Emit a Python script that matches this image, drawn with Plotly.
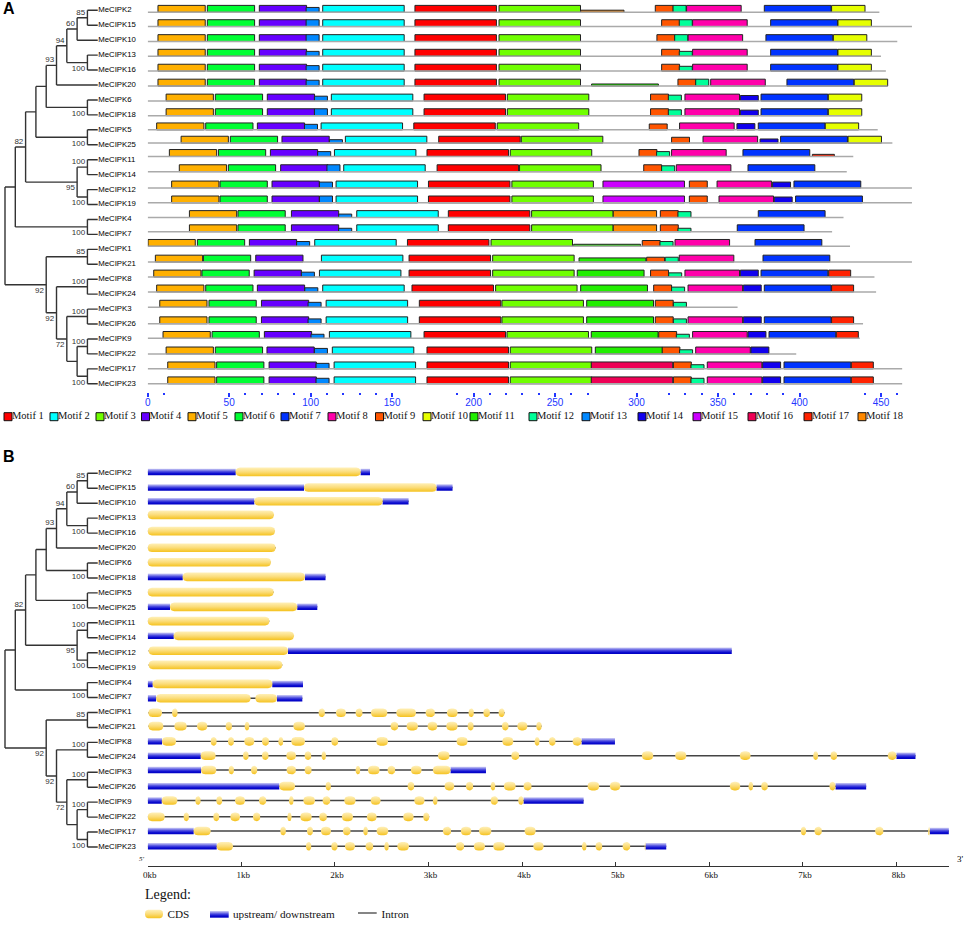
import numpy as np
import plotly.graph_objects as go

W, H = 964, 925

# tree order, top to bottom, shared by panels A and B
GENES = [
    "MeCIPK2", "MeCIPK15", "MeCIPK10", "MeCIPK13", "MeCIPK16", "MeCIPK20", "MeCIPK6", "MeCIPK18",
    "MeCIPK5", "MeCIPK25", "MeCIPK11", "MeCIPK14", "MeCIPK12", "MeCIPK19", "MeCIPK4", "MeCIPK7",
    "MeCIPK1", "MeCIPK21", "MeCIPK8", "MeCIPK24", "MeCIPK3", "MeCIPK26", "MeCIPK9", "MeCIPK22",
    "MeCIPK17", "MeCIPK23",
]

# (depth, support, side of the support label, children...)
TREE = (0, None, None,
    (1, None, None,
        (2, 82, "up",
            (3, None, None,
                (4, None, None,
                    (5, 93, "up",
                        (6, 94, "up",
                            (7, 60, "up", (8, 85, "up", "MeCIPK2", "MeCIPK15"), "MeCIPK10"),
                            (8, 100, "down", "MeCIPK13", "MeCIPK16")),
                        "MeCIPK20"),
                    (8, 100, "down", "MeCIPK6", "MeCIPK18")),
                (8, 100, "down", "MeCIPK5", "MeCIPK25")),
            (7, 95, "down",
                (8, 100, "up", "MeCIPK11", "MeCIPK14"),
                (8, 100, "down", "MeCIPK12", "MeCIPK19"))),
        (8, 100, "down", "MeCIPK4", "MeCIPK7")),
    (4, 92, "down",
        (8, 85, "up", "MeCIPK1", "MeCIPK21"),
        (5, 92, "down",
            (8, 100, "up", "MeCIPK8", "MeCIPK24"),
            (6, 72, "down",
                (8, 100, "up", "MeCIPK3", "MeCIPK26"),
                (7, None, None,
                    (8, 100, "up", "MeCIPK9", "MeCIPK22"),
                    (8, 100, "down", "MeCIPK17", "MeCIPK23"))))),
)

# panel A
PROTEIN_LENGTH = [449, 469, 460, 450, 453, 454, 438, 438, 448, 457, 433, 429, 469, 469, 427, 420,
                  431, 469, 446, 447, 362, 439, 437, 398, 463, 463]
MOTIF_WIDTH = [50, 50, 50, 29, 29, 29, 41, 33.5, 11, 20.5, 41, 8, 8, 11, 50, 50, 13.5, 26.6]
MOTIF_COLORS = ["#ff0000", "#00ffff", "#70ff00", "#6600ff", "#ffb000", "#00ff33", "#0033ff", "#ff00aa",
                "#ff5500", "#e6ff00", "#22ee00", "#00ff99", "#0088ff", "#1100ee", "#cc00ff", "#ee0055",
                "#ff2200", "#ff8800"]
MOTIF_NAMES = [f"Motif {i}" for i in range(1, 19)]
# baseline of each track, as a shift from the tree row
MOTIF_SHIFT = [.13, .09, .09, .07, .07, .07, .07, .05, 0, -.11, -.22, -.20, -.11, -.11, -.13, -.18,
               -.20, -.15, -.15, -.15, -.13, -.02, -.04, 0, 0, 0]

# (motif, start) or (motif, start, relative height)
M_2 = [(5, 6.3), (6, 36.6), (4, 68.5), (13, 97.2, .7), (2, 107.4), (1, 164), (3, 215.6), (18, 265.7, .3),
       (9, 311.5), (12, 322.4), (8, 330.7), (7, 378.4), (10, 419.7)]
M_15 = [(5, 6.3), (6, 36.6), (4, 68.5), (13, 97.2), (2, 107.4), (1, 164), (3, 215.6), (9, 315.4),
        (12, 326.2), (8, 334.4), (7, 382.3), (10, 423.6)]
M_10 = [(5, 6.3), (6, 36.6), (4, 68.5), (13, 97.2), (2, 107.4), (1, 164), (3, 215.6), (9, 312.5),
        (12, 323.4), (8, 331.6), (7, 379.4), (10, 420.8)]
M_13 = [(5, 6.3), (6, 36.6), (4, 68.5), (13, 97.2, .7), (2, 107.4), (1, 164), (3, 215.6), (9, 315.4),
        (12, 326.2, .7), (8, 334.4), (7, 382.3), (10, 423.6)]
M_16 = [(5, 6.3), (6, 36.6), (4, 68.5), (13, 97.2, .8), (2, 107.4), (1, 164), (3, 215.6), (9, 315.4),
        (12, 326.2, .7), (8, 334.4), (7, 382.3), (10, 423.6)]
M_20 = [(5, 6.3), (6, 36.6), (4, 68.5), (13, 97.2, .85), (2, 107.4), (1, 164), (3, 215.6), (11, 272.4, .3),
        (9, 325.4), (12, 336.3), (8, 345.5), (7, 392.3), (10, 433.6)]
M_6 = [(5, 11.3), (6, 41.5), (4, 73.4), (13, 102.3, .7), (2, 112.7), (1, 169.6), (3, 220.7), (9, 308.6),
       (12, 319.5, .85), (8, 329.7), (14, 363.7, .8), (7, 376.4), (10, 417.7)]
M_18 = [(5, 11.3), (6, 41.5), (4, 73.4), (13, 102.3), (2, 112.7), (1, 169.6), (3, 220.7), (9, 308.6),
        (12, 319.5, .85), (8, 329.7), (14, 363.7, .8), (7, 376.4), (10, 417.7)]
M_5 = [(5, 5.5), (6, 35.6), (4, 67.3), (13, 96.2, .8), (2, 106.4), (1, 163.3), (3, 214.5), (9, 307.8, .85),
       (8, 326.4), (14, 361.6, .9), (7, 374.7), (10, 415.8)]
M_25 = [(5, 20.5), (6, 50.7), (4, 82.4), (13, 111.5, .5), (2, 121.3), (1, 178.6), (3, 229.3), (9, 321.5, .85),
        (8, 340.8), (14, 375.8, .6), (7, 388.4), (10, 429.8)]
M_11 = [(5, 13.3), (6, 43.4), (4, 75.3), (13, 104.3, .7), (2, 114.6), (1, 171.4), (3, 222.5), (9, 301.5),
        (12, 312.3, .7), (8, 321.5), (7, 365.3), (17, 407.9, .3)]
M_14 = [(5, 19.4), (6, 49.5), (4, 81.6), (13, 110), (2, 120.3), (1, 177.6), (3, 228.2), (9, 304.4),
        (12, 315.4, .85), (8, 324.4), (7, 368.4)]
M_12 = [(5, 14.7), (6, 44.4), (4, 76.3), (13, 105.4, .85), (2, 115.6), (1, 172.3), (3, 223.5), (15, 279.4),
        (9, 332.4), (8, 349.4), (14, 383.5, .85), (7, 396.6)]
M_19 = [(5, 14.7), (6, 44.4), (4, 76.3), (13, 105.4), (2, 115.6), (1, 172.3), (3, 223.5), (15, 279.4),
        (9, 332.4), (8, 350.6), (14, 384.5, .85), (7, 397.6)]
M_4 = [(5, 25.6), (6, 55.4), (4, 88.2), (13, 117.2, .5), (2, 128.3), (1, 184.5), (3, 235.6), (18, 285.7),
       (9, 314.6), (12, 325.4, .85), (7, 374.7)]
M_7 = [(5, 25.6), (6, 55.4), (4, 88.2), (13, 117.2, .5), (2, 128.3), (1, 184.5), (3, 235.6), (18, 285.7),
       (9, 314.6), (12, 325.4, .5), (7, 361.8)]
M_1 = [(5, .2), (6, 30.5), (4, 62.4), (13, 91.4, .7), (2, 102.5), (1, 159.4), (3, 210.7), (11, 261.4, .3),
       (9, 303.5, .85), (12, 314.4, .7), (8, 323.6), (7, 372.7)]
M_21 = [(5, 4.7), (6, 34.2), (4, 66.3), (2, 106.6), (1, 160.4), (3, 211.7), (11, 264.7, .6), (9, 306.2, .7),
        (12, 317.6, .7), (8, 326.2), (7, 377.6)]
M_8 = [(5, 3.7), (6, 33.3), (4, 65.3), (13, 94.3, .7), (2, 105.4), (1, 160.4), (3, 211.7), (11, 263.6),
       (9, 308.6), (12, 319.7, .6), (8, 329.7), (14, 363.7), (7, 376.4), (17, 417.9)]
M_24 = [(5, 5.5), (6, 35.6), (4, 67.3), (13, 96.4, .6), (2, 107.4), (1, 162.2), (3, 213.5), (11, 265.7),
        (9, 310.5), (12, 321.5, .7), (8, 331.6), (14, 365.5), (7, 378.4), (17, 419.7)]
M_3 = [(5, 7.4), (6, 37.6), (4, 69.8), (13, 98.4, .7), (2, 109.5), (1, 166.7), (3, 217.4), (11, 269.4),
       (9, 311.5), (12, 322.6, .7)]
M_26 = [(5, 7.4), (6, 37.6), (4, 69.8), (13, 98.4, .7), (2, 109.5), (1, 166.7), (3, 217.4), (11, 269.4),
        (9, 311.5), (12, 322.6, .7), (8, 331.6), (14, 365.5), (7, 378.4), (17, 419.7)]
M_9 = [(5, 9.4), (6, 39.5), (4, 71.6), (13, 100.2, .6), (2, 111.5), (1, 169.6), (3, 220.5), (11, 272.2),
       (9, 313.6), (12, 324.4, .6), (8, 334.4), (14, 368.4), (7, 381.3), (17, 422.6)]
M_22 = [(5, 11.3), (6, 41.5), (4, 73.2), (13, 102.3, .8), (2, 113.3), (1, 171.4), (3, 222.5), (11, 274.7),
        (9, 315.6), (12, 326.4, .6), (8, 336.3), (14, 370.2)]
M_17 = [(5, 12.3), (6, 42.3), (4, 74.5), (13, 103.3, .8), (2, 114.4), (1, 171.4), (3, 222.5), (16, 272.2),
        (9, 322.6), (12, 333.4, .6), (8, 343.4), (14, 377.4), (7, 390.5), (17, 431.8)]
M_23 = [(5, 12.3), (6, 42.3), (4, 74.5), (13, 103.3, .8), (2, 114.4), (1, 171.4), (3, 222.5), (16, 272.2),
        (9, 322.6), (12, 333.4, .8), (8, 343.4), (14, 377.4), (7, 390.5), (17, 431.8)]
MOTIF_HITS = [M_2, M_15, M_10, M_13, M_16, M_20, M_6, M_18, M_5, M_25, M_11, M_14, M_12, M_19, M_4, M_7,
              M_1, M_21, M_8, M_24, M_3, M_26, M_9, M_22, M_17, M_23]

AA_MAJOR = [0, 50, 100, 150, 200, 250, 300, 350, 400, 450]
AA_MINOR = [10, 60, 70, 80, 90, 110, 120, 130, 140, 190, 210, 220, 230, 240, 260, 270, 320, 330, 340,
            360, 370, 380, 390, 440, 460]

# panel B, kb from the 5' end
GENE_SHIFT = [-.09, -.05, -.13, -.22, -.13, -.02, -.05, -.07, -.05, -.07, -.11, -.13, -.13, -.18, .09, .05,
              .02, -.09, -.07, -.11, -.15, -.07, -.11, -.02, -.07, -.05]

CDS_2 = [(.94, 2.275)]
CDS_15 = [(1.67, 3.086)]
CDS_10 = [(1.139, 2.51)]
CDS_13 = [(0, 1.349)]
CDS_16 = [(0, 1.36)]
CDS_20 = [(0, 1.367)]
CDS_6 = [(0, 1.317)]
CDS_18 = [(.374, 1.68)]
CDS_5 = [(0, 1.346)]
CDS_25 = [(.238, 1.598)]
CDS_11 = [(0, 1.30)]
CDS_14 = [(.278, 1.563)]
CDS_12 = [(.01, 1.499)]
CDS_19 = [(.01, 1.438)]
CDS_4 = [(.053, 1.331)]
CDS_7 = [(.089, 1.10), (1.15, 1.381)]
CDS_1 = [(.007, .153), (.26, .32), (1.826, 1.894), (2.011, 2.118), (2.221, 2.296), (2.385, 2.56), (2.656, 2.866),
         (2.969, 3.069), (3.197, 3.311), (3.428, 3.485), (3.586, 3.657), (3.749, 3.813)]
CDS_21 = [(.007, .167), (.285, .417), (.527, .637), (.833, .901), (1.036, 1.086), (1.556, 1.68), (2.595, 2.677),
          (2.766, 2.887), (2.99, 3.094), (3.19, 3.311), (3.418, 3.482), (3.785, 3.856), (3.949, 4.056), (4.152, 4.209)]
CDS_8 = [(.153, .303), (.673, .737), (.858, .922), (1.032, 1.139), (1.221, 1.296), (1.396, 1.449), (1.534, 1.68),
         (1.962, 2.036), (2.442, 2.567), (3.3, 3.418), (3.789, 3.906), (4.134, 4.187), (4.287, 4.358), (4.54, 4.636)]
CDS_24 = [(.566, .726), (1.018, 1.079), (1.221, 1.292), (1.481, 1.584), (1.677, 1.748), (1.858, 1.905), (3.101, 3.225),
          (3.885, 3.97), (5.28, 5.401), (5.636, 5.754), (6.327, 6.441), (7.11, 7.163), (7.295, 7.366), (7.907, 8.0)]
CDS_3 = [(.57, .733), (.865, .922), (1.104, 1.171), (1.484, 1.584), (1.677, 1.752), (2.221, 2.271), (2.353, 2.478),
         (2.563, 2.645), (2.812, 2.926), (3.047, 3.236)]
CDS_26 = [(1.406, 1.574), (1.901, 1.958), (2.777, 2.848), (3.172, 3.275), (3.4, 3.478), (3.664, 3.714), (3.806, 3.931),
          (4.016, 4.102), (4.7, 4.824), (4.938, 5.049), (6.22, 6.33), (6.419, 6.469), (6.555, 6.626), (7.284, 7.349)]
CDS_9 = [(.15, .317), (.509, .566), (.733, .797), (.933, 1.04), (1.189, 1.267), (1.509, 1.559), (1.663, 1.787),
         (1.869, 1.951), (2.1, 2.221), (2.382, 2.488), (2.848, 2.958), (3.047, 3.097), (3.664, 3.742), (3.959, 4.016)]
CDS_22 = [(0, .182), (.384, .441), (.701, .765), (.883, .986), (1.125, 1.203), (1.492, 1.538), (1.63, 1.752),
          (1.833, 1.915), (2.075, 2.193), (2.342, 2.446), (2.73, 2.841), (2.944, 3.008)]
CDS_17 = [(.491, .673), (1.417, 1.477), (1.702, 1.766), (1.851, 1.958), (2.086, 2.168), (2.303, 2.353), (2.446, 2.57),
          (3.154, 3.243), (3.346, 3.457), (3.54, 3.671), (4.027, 4.145), (6.978, 7.035), (7.124, 7.203), (7.772, 7.861),
          (8.338, 8.356)]
CDS_23 = [(.737, .911), (1.691, 1.748), (1.962, 2.029), (2.108, 2.214), (2.328, 2.41), (2.528, 2.577), (2.667, 2.791),
          (3.293, 3.382), (3.485, 3.603), (3.692, 3.817), (4.12, 4.23), (4.639, 4.689), (4.785, 4.857), (5.074, 5.156),
          (5.309, 5.319)]
GENE_CDS = [CDS_2, CDS_15, CDS_10, CDS_13, CDS_16, CDS_20, CDS_6, CDS_18, CDS_5, CDS_25, CDS_11, CDS_14, CDS_12, CDS_19,
            CDS_4, CDS_7, CDS_1, CDS_21, CDS_8, CDS_24, CDS_3, CDS_26, CDS_9, CDS_22, CDS_17, CDS_23]

GENE_UTR = [
    [(0, .94), (2.275, 2.375)], [(0, 1.67), (3.086, 3.257)], [(0, 1.139), (2.51, 2.787)], [], [], [], [],
    [(0, .374), (1.68, 1.90)], [], [(0, .238), (1.598, 1.812)], [], [(0, .278)], [(1.499, 6.24)], [],
    [(0, .053), (1.331, 1.659)], [(0, .089), (1.381, 1.652)], [], [], [(0, .153), (4.636, 4.992)],
    [(0, .566), (8.0, 8.203)], [(0, .57), (3.236, 3.614)], [(0, 1.406), (7.349, 7.676)], [(0, .15), (4.016, 4.657)], [],
    [(0, .491), (8.356, 8.559)], [(0, .737), (5.319, 5.54)],
]
KB_TICKS = [0, 1, 2, 3, 4, 5, 6, 7, 8]

CDS_SCALE = [[0, "#fff0b8"], [.5, "#fbdc78"], [1, "#f5c21e"]]
UTR_SCALE = [[0, "#d0d0f6"], [.45, "#4a4adf"], [.75, "#0a0ad0"], [1, "#0000c0"]]
AXIS_BLUE = "#2236ff"
SERIF = "Liberation Serif"
SANS = "Liberation Sans"
row = {g: i for i, g in enumerate(GENES)}


def walk(node, xs, ys, labels):
    # cladogram: internal y is halfway between its children
    if isinstance(node, str):
        return 9, row[node]
    depth, support, side, *children = node
    pts = [walk(c, xs, ys, labels) for c in children]
    y = (pts[0][1] + pts[-1][1]) / 2
    xs += [depth, depth, None]
    ys += [pts[0][1], pts[-1][1], None]
    for cx, cy in pts:
        xs += [depth, cx, None]
        ys += [cy, cy, None]
    if support is not None:
        labels.append((depth - .22, y + (-.33 if side == "up" else .42), str(support)))
    return depth, y


def rounded(x0, x1, yc, h, r=.045):
    rx = min(r, (x1 - x0) / 2)
    ry = h / 2 * .85
    t = np.linspace(0, np.pi / 2, 6)
    left = x0 + rx - rx * np.cos(t)
    right = x1 - rx + rx * np.sin(t)
    top = yc - h / 2 + ry - ry * np.sin(t)
    bot = yc + h / 2 - ry + ry * np.sin(t)
    px = list(left) + list(right) + list(right[::-1]) + list(left[::-1]) + [None]
    py = list(top) + list(top[::-1]) + list(bot) + list(bot[::-1]) + [None]
    return px, py


def gradient_trace(xs, ys, y0, y1, scale, xa, ya):
    return go.Scatter(x=xs, y=ys, xaxis=xa, yaxis=ya, mode="lines", line=dict(width=0), fill="toself",
                      fillgradient=dict(type="vertical", colorscale=scale, start=y0, stop=y1),
                      hoverinfo="skip", showlegend=False)


fig = go.Figure()

# trees
tx, ty, support_labels = [], [], []
walk(TREE, tx, ty, support_labels)
for ya in ["y", "y2"]:
    fig.add_trace(go.Scatter(x=tx, y=ty, xaxis="x", yaxis=ya, mode="lines",
                             line=dict(color="#333333", width=1.4), hoverinfo="skip", showlegend=False))
    fig.add_trace(go.Scatter(x=[9.05] * len(GENES), y=list(range(len(GENES))), xaxis="x", yaxis=ya, mode="text",
                             text=GENES, textposition="middle right", cliponaxis=False,
                             textfont=dict(family=SANS, size=7.8, color="#000"), showlegend=False))
    fig.add_trace(go.Scatter(x=[p[0] for p in support_labels], y=[p[1] for p in support_labels], xaxis="x", yaxis=ya,
                             mode="text", text=[p[2] for p in support_labels], textposition="middle left",
                             cliponaxis=False, textfont=dict(family=SANS, size=8, color="#333"), showlegend=False))

# panel A: protein baselines then motif blocks
bx, by = [], []
for i, length in enumerate(PROTEIN_LENGTH):
    bx += [0, length, None]
    by += [i + MOTIF_SHIFT[i], i + MOTIF_SHIFT[i], None]
fig.add_trace(go.Scatter(x=bx, y=by, xaxis="x2", yaxis="y", mode="lines", line=dict(color="#aaaaaa", width=1.5),
                         hoverinfo="skip", showlegend=False))
for m in range(18):
    starts, rows, heights = [], [], []
    for i, hits in enumerate(MOTIF_HITS):
        for hit in hits:
            if hit[0] == m + 1:
                starts.append(hit[1])
                rows.append(i + MOTIF_SHIFT[i])
                heights.append(.46 * (hit[2] if len(hit) > 2 else 1))
    if not starts:
        continue
    fig.add_trace(go.Bar(orientation="h", name=MOTIF_NAMES[m], base=starts, x=[MOTIF_WIDTH[m]] * len(starts), y=rows,
                         width=heights, offset=[-h for h in heights], xaxis="x2", yaxis="y",
                         marker=dict(color=MOTIF_COLORS[m], line=dict(color="#222222", width=1)), showlegend=False))

# panel B: intron line under UTR and CDS blocks
ix, iy = [], []
for i in range(len(GENES)):
    blocks = GENE_CDS[i] + GENE_UTR[i]
    ix += [min(b[0] for b in blocks), max(b[1] for b in blocks), None]
    iy += [i + GENE_SHIFT[i], i + GENE_SHIFT[i], None]
fig.add_trace(go.Scatter(x=ix, y=iy, xaxis="x3", yaxis="y2", mode="lines", line=dict(color="#444444", width=1.4),
                         hoverinfo="skip", showlegend=False))
for i in range(len(GENES)):
    yc = i + GENE_SHIFT[i]
    if GENE_UTR[i]:
        ux, uy = [], []
        for a, b in GENE_UTR[i]:
            ux += [a, b, b, a, a, None]
            uy += [yc - .22, yc - .22, yc + .22, yc + .22, yc - .22, None]
        fig.add_trace(gradient_trace(ux, uy, yc - .22, yc + .22, UTR_SCALE, "x3", "y2"))
    cx, cy = [], []
    for a, b in GENE_CDS[i]:
        px, py = rounded(a, b, yc, .58)
        cx += px
        cy += py
    fig.add_trace(gradient_trace(cx, cy, yc - .29, yc + .29, CDS_SCALE, "x3", "y2"))

# keys, on an overlay axis that runs in page pixels
key_x = [8, 54, 100, 145.5, 192, 239, 285, 332, 379.5, 427, 474, 533, 586, 642, 697, 752, 808, 862]
fig.add_trace(go.Scatter(x=key_x, y=[416.7] * 18, xaxis="x4", yaxis="y3", mode="markers",
                         marker=dict(symbol="square", size=8, color=MOTIF_COLORS, line=dict(color="#111", width=1)),
                         hoverinfo="skip", showlegend=False))
fig.add_trace(go.Scatter(x=[k + 4 for k in key_x], y=[416.7] * 18, xaxis="x4", yaxis="y3", mode="text", text=MOTIF_NAMES,
                         textposition="middle right", textfont=dict(family=SERIF, size=10.5, color="#111"),
                         hoverinfo="skip", showlegend=False))
fig.add_trace(gradient_trace([210, 228.7, 228.7, 210, 210], [911, 911, 917.7, 917.7, 911], 911, 917.7, UTR_SCALE, "x4", "y3"))
sx, sy = rounded(145, 163, 914, 8.5, r=3)
fig.add_trace(gradient_trace(sx, sy, 909.7, 918.3, CDS_SCALE, "x4", "y3"))
fig.add_trace(go.Scatter(x=[358, 376.7], y=[913, 913], xaxis="x4", yaxis="y3", mode="lines",
                         line=dict(color="#333", width=1.2), hoverinfo="skip", showlegend=False))
fig.add_trace(go.Scatter(x=[145, 167.5, 233, 381.5], y=[895.5, 915, 915, 915], xaxis="x4", yaxis="y3", mode="text",
                         text=["Legend:", "CDS", "upstream/ downstream", "Intron"], textposition="middle right",
                         textfont=dict(family=SERIF, size=[14, 11.2, 11.2, 11.2], color="#111"), hoverinfo="skip",
                         showlegend=False))
fig.add_trace(go.Scatter(x=[3, 3, 139, 957], y=[9.5, 458, 859, 860], xaxis="x4", yaxis="y3", mode="text",
                         text=["<b>A</b>", "<b>B</b>", "<i>5'</i>", "3'"], textposition="middle right",
                         textfont=dict(family=[SANS, SANS, SERIF, SERIF], size=[16, 16, 7, 9], color="black"),
                         hoverinfo="skip", showlegend=False))

A_TOP, A_BOTTOM = -.69, 25.55
B_TOP, B_BOTTOM = -.89, 26.27
fig.update_layout(
    width=W, height=H, margin=dict(l=0, r=0, t=0, b=0, autoexpand=False), plot_bgcolor="rgba(0,0,0,0)",
    paper_bgcolor="white", barmode="overlay", showlegend=False,
    xaxis=dict(domain=[0, 147.7 / W], range=[-.485, 13.85], visible=False),
    yaxis=dict(domain=[1 - 392 / H, 1], range=[A_BOTTOM, A_TOP], visible=False),
    yaxis2=dict(domain=[1 - 866 / H, 1 - 460 / H], range=[B_BOTTOM, B_TOP], visible=False),
    xaxis2=dict(domain=[147.7 / W, 1], range=[0, (W - 147.7) / 1.6295], anchor="y", showgrid=False, zeroline=False,
                tickmode="array", tickvals=AA_MAJOR, ticks="outside", ticklen=4, tickwidth=1.5, tickcolor=AXIS_BLUE,
                ticklabelstandoff=-3, tickfont=dict(family=SANS, size=10, color=AXIS_BLUE),
                minor=dict(tickmode="array", tickvals=AA_MINOR, ticks="outside", ticklen=1.5, tickwidth=1.5,
                           tickcolor=AXIS_BLUE, showgrid=False)),
    xaxis3=dict(domain=[147.7 / W, 949 / W], range=[0, 8.561], anchor="y2", showgrid=False, zeroline=False,
                showline=True, linecolor="#333", linewidth=1.2, tickmode="array", tickvals=KB_TICKS,
                ticktext=[f"{k}kb" for k in KB_TICKS], ticks="inside", ticklen=4, tickcolor="#333",
                ticklabelshift=2, tickfont=dict(family=SERIF, size=9, color="#111")),
    xaxis4=dict(domain=[0, 1], range=[0, W], anchor="y3", visible=False),
    yaxis3=dict(domain=[0, 1], range=[H, 0], anchor="x4", visible=False),
)

fig.write_html("out.html", config=dict(displayModeBar=False),
               post_script="document.body.style.margin='0';document.body.style.overflow='hidden';")
